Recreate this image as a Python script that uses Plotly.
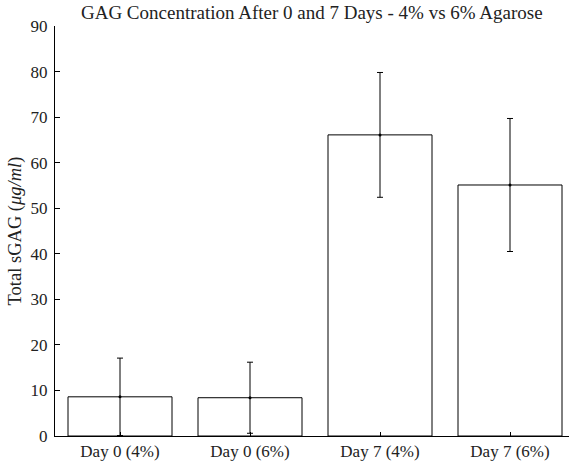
import plotly.graph_objects as go

categories = ["Day 0 (4%)", "Day 0 (6%)", "Day 7 (4%)", "Day 7 (6%)"]
means = [8.6, 8.4, 66.1, 55.1]
errors = [8.5, 7.8, 13.7, 14.6]
y_ticks = [0, 10, 20, 30, 40, 50, 60, 70, 80, 90]

xpos = list(range(len(categories)))
font = "Liberation Serif"

fig = go.Figure()
fig.add_trace(go.Bar(
    x=xpos, y=means, width=0.8,
    marker=dict(color="white", line=dict(color="black", width=1)),
    showlegend=False, hoverinfo="skip",
))
fig.add_trace(go.Scatter(
    x=xpos, y=means, mode="markers",
    marker=dict(color="black", size=3),
    error_y=dict(type="data", array=errors, visible=True, color="black",
                 thickness=1, width=3),
    showlegend=False,
))

fig.update_layout(
    width=569, height=466,
    margin=dict(l=55, r=0, t=26, b=30),
    plot_bgcolor="white", paper_bgcolor="white",
    font=dict(family=font, size=17, color="#222"),
    title=dict(text="GAG Concentration After 0 and 7 Days - 4% vs 6% Agarose",
               x=0.548, xanchor="center", y=0.974, yanchor="middle",
               font=dict(family=font, size=19, color="#222")),
    xaxis=dict(
        range=[-0.5, 3.5 - 6 / 130], tickvals=xpos, ticktext=categories,
        showgrid=False, zeroline=False, showline=True, linecolor="black",
        linewidth=1, ticks="inside", ticklen=4, tickcolor="black",
        tickfont=dict(size=17),
    ),
    yaxis=dict(
        range=[0, 90], tickvals=y_ticks,
        showgrid=False, zeroline=False, showline=True, linecolor="black",
        linewidth=1, ticks="inside", ticklen=5, tickcolor="black",
        tickfont=dict(size=17), ticklabelstandoff=3,
        title=dict(text="Total sGAG (<i>μg/ml</i>)", font=dict(size=18.5), standoff=4),
    ),
)

fig.write_html("out.html")
